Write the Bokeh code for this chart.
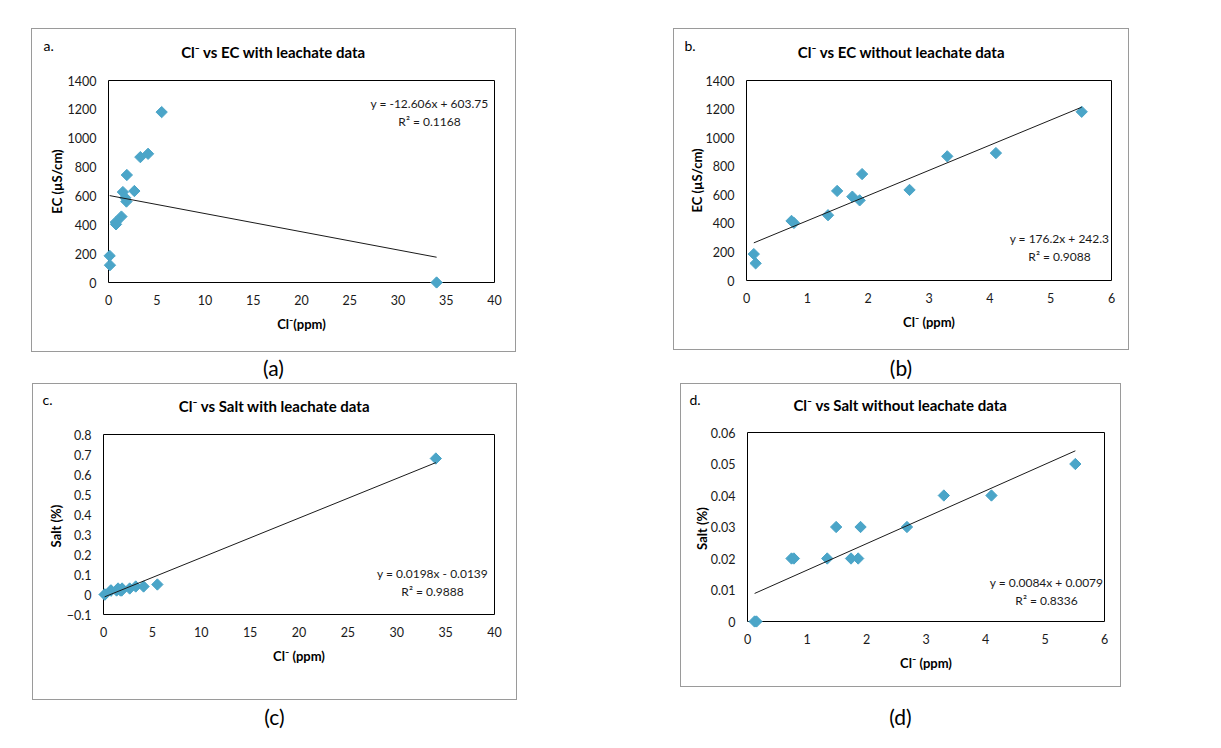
from bokeh.plotting import figure
from bokeh.models import Range1d, FixedTicker, Label, Div
from bokeh.layouts import column, row
from bokeh.embed import file_html
from bokeh.resources import INLINE

# Soil samples (without leachate)
cl_ppm = [0.12, 0.15, 0.74, 0.78, 1.34, 1.49, 1.74, 1.86, 1.90, 2.68, 3.30, 4.10, 5.51]
ec_us_cm = [185, 120, 417, 403, 457, 627, 587, 561, 745, 634, 869, 892, 1181]
salt_pct = [0, 0, 0.02, 0.02, 0.02, 0.03, 0.02, 0.02, 0.03, 0.03, 0.04, 0.04, 0.05]

# Leachate sample
leachate_cl_ppm = [34.0]
leachate_ec_us_cm = [0]
leachate_salt_pct = [0.68]

# Linear trendlines: slope, intercept, R²
trend_ec_with = [-12.606, 603.75, 0.1168]
trend_ec_without = [176.2, 242.3, 0.9088]
trend_salt_with = [0.0198, -0.0139, 0.9888]
trend_salt_without = [0.0084, 0.0079, 0.8336]

# Axis ticks
ticks_cl_wide = [0, 5, 10, 15, 20, 25, 30, 35, 40]
ticks_cl_narrow = [0, 1, 2, 3, 4, 5, 6]
ticks_ec = [0, 200, 400, 600, 800, 1000, 1200, 1400]
ticks_salt_wide = [-0.1, 0, 0.1, 0.2, 0.3, 0.4, 0.5, 0.6, 0.7, 0.8]
ticks_salt_narrow = [0, 0.01, 0.02, 0.03, 0.04, 0.05, 0.06]

FONT = "Lato"
MARKER_COLOR = "#4BA5C8"
BOX_COLOR = "#9a9a9a"
PAD = 6  # spare pixels around the plot area so edge markers are not cut


def equation(fit):
    m, b, r2 = fit
    sign = "+" if b >= 0 else "-"
    return f"y = {m:g}x {sign} {abs(b):g}", f"R\u00b2 = {r2:g}"


def outside_label(**kw):
    try:
        return Label(x_units="canvas", y_units="canvas", **kw)
    except Exception:
        return Label(x_units="screen", y_units="screen", **kw)


def panel(box, area, xs, ys, fit, x_ticks, y_ticks, title, tag, xlabel, ylabel,
          title_at, tag_at, eq_at, ylab_standoff, xlab_standoff):
    bx, by, bw, bh = box
    al, at, ar, ab = area
    fl, ft, fr, fb = al - PAD, at - PAD, ar + PAD, ab + PAD
    x0, x1 = x_ticks[0], x_ticks[-1]
    y0, y1 = y_ticks[0], y_ticks[-1]
    dx = (x1 - x0) / (ar - al) * PAD
    dy = (y1 - y0) / (ab - at) * PAD
    p = figure(width=bw, height=bh, output_backend="svg", toolbar_location=None,
               x_range=Range1d(x0 - dx, x1 + dx), y_range=Range1d(y0 - dy, y1 + dy),
               min_border_left=fl - bx, min_border_top=ft - by,
               min_border_right=bx + bw - fr, min_border_bottom=by + bh - fb)
    p.background_fill_color = None
    p.border_fill_color = None
    p.outline_line_color = None
    p.grid.visible = False
    p.styles = {"box-shadow": f"inset 0 0 0 1px {BOX_COLOR}"}

    for ax in (p.xaxis[0], p.yaxis[0]):
        ax.major_tick_line_color = None
        ax.minor_tick_line_color = None
        ax.major_tick_out = 0
        ax.major_tick_in = 0
        ax.minor_tick_out = 0
        ax.axis_line_color = None
        ax.major_label_text_font = FONT
        ax.major_label_text_font_size = "12.5px"
        ax.major_label_text_color = "#1a1a1a"
        ax.axis_label_text_font = FONT
        ax.axis_label_text_font_size = "13px"
        ax.axis_label_text_font_style = "bold"
        ax.axis_label_text_color = "#000000"
        ax.major_label_overrides = {0: "0"}

    p.xaxis.ticker = FixedTicker(ticks=x_ticks)
    p.yaxis.ticker = FixedTicker(ticks=y_ticks)
    p.xaxis.major_label_standoff = 12 - PAD
    p.yaxis.major_label_standoff = 12 - PAD
    p.xaxis.axis_label = xlabel
    p.yaxis.axis_label = ylabel
    p.xaxis.axis_label_standoff = xlab_standoff
    p.yaxis.axis_label_standoff = ylab_standoff

    # plot-area border
    p.quad(left=[x0], right=[x1], bottom=[y0], top=[y1], fill_color="white",
           line_color="#000000", line_width=1)

    p.scatter(xs, ys, marker="square", angle=0.785398, size=8,
              fill_color=MARKER_COLOR, line_color=MARKER_COLOR, line_width=1)

    m, b, _ = fit
    lo, hi = min(xs), max(xs)
    p.line([lo, hi], [m * lo + b, m * hi + b], line_color="#1a1a1a", line_width=1)

    p.add_layout(outside_label(x=title_at[0] - bx, y=title_at[1] - by, text=title,
                               text_font=FONT, text_font_size="15px", text_font_style="bold",
                               text_align="center", text_baseline="middle",
                               text_color="#000000"), "above")
    p.add_layout(outside_label(x=tag_at[0] - bx, y=tag_at[1] - by, text=tag,
                               text_font=FONT, text_font_size="14px",
                               text_align="left", text_baseline="middle",
                               text_color="#000000"), "above")

    line1, line2 = equation(fit)
    for txt, yy in ((line1, eq_at[1]), (line2, eq_at[2])):
        p.add_layout(Label(x=eq_at[0] - fl, y=fb - yy, x_units="screen", y_units="screen",
                           text=txt, text_font=FONT, text_font_size="12px",
                           text_align="center", text_baseline="middle", text_color="#1a1a1a"))
    return p


def caption(text, width, height, line_height, left):
    return Div(text=text, width=width, height=height, margin=(0, 0, 0, left),
               styles={"text-align": "center", "font-family": FONT, "font-size": "21px",
                       "line-height": f"{line_height}px", "color": "#000000"})


all_cl = cl_ppm + leachate_cl_ppm

p_a = panel((31, 28, 485, 324), (108, 80, 494, 282), all_cl, ec_us_cm + leachate_ec_us_cm,
            trend_ec_with, ticks_cl_wide, ticks_ec,
            "Cl\u207b vs EC with leachate data", "a.", "Cl\u207b(ppm)", "EC (\u00b5S/cm)",
            (273, 51), (43, 45), (429, 103, 121), 0, 8)
p_b = panel((673, 28, 456, 322), (746, 80, 1111, 280), cl_ppm, ec_us_cm,
            trend_ec_without, ticks_cl_narrow, ticks_ec,
            "Cl\u207b vs EC without leachate data", "b.", "Cl\u207b (ppm)", "EC (\u00b5S/cm)",
            (901, 51), (684, 45), (1059, 238, 256), -2, 8)
p_c = panel((32, 383, 485, 317), (103, 434, 494, 614), all_cl, salt_pct + leachate_salt_pct,
            trend_salt_with, ticks_cl_wide, ticks_salt_wide,
            "Cl\u207b vs Salt with leachate data", "c.", "Cl\u207b (ppm)", "Salt  (%)",
            (274, 405), (42, 399), (432, 573, 591), 0, 8)
p_d = panel((680, 383, 441, 304), (747, 432, 1104, 621), cl_ppm, salt_pct,
            trend_salt_without, ticks_cl_narrow, ticks_salt_narrow,
            "Cl\u207b vs Salt without leachate data", "d.", "Cl\u207b (ppm)", "Salt  (%)",
            (900, 404), (689, 399), (1046, 582, 600), -2, 8)

p_a.margin = (28, 0, 0, 31)
p_b.margin = (28, 0, 0, 157)
p_c.margin = (0, 0, 0, 32)
p_d.margin = (0, 0, 0, 163)

cap_a = caption("(a)", 485, 31, 31, 31)
cap_b = caption("(b)", 456, 33, 36, 157)
cap_c = caption("(c)", 485, 34, 34, 32)
cap_d = caption("(d)", 441, 60, 60, 163)

top = row(column(p_a, cap_a), column(p_b, cap_b))
bottom = row(column(p_c, cap_c), column(p_d, cap_d))
layout = column(top, bottom)

open("out.html", "w").write(file_html(layout, INLINE))
